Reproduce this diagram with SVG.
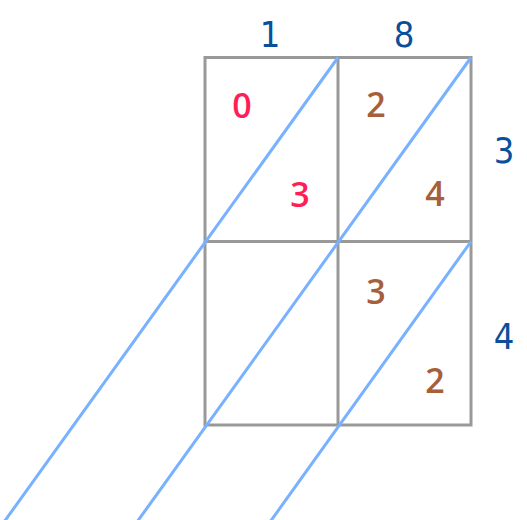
<svg xmlns="http://www.w3.org/2000/svg" width="527" height="520" viewBox="0 0 527 520">
<style>
.grid{fill:none;stroke:#999999;stroke-width:3}
.diag{stroke:#77b1ff;stroke-width:3;fill:none}
.lbl{font-family:"DejaVu Sans Condensed","DejaVu Sans",sans-serif;font-size:36px;fill:#0a4f9c;text-anchor:middle}
.dig{font-family:"Open Sans","Noto Sans",sans-serif;font-size:34px;font-weight:600;text-anchor:middle}
.red{fill:#ff1f55}
.brown{fill:#a65f3a}
</style>
<rect width="527" height="520" fill="#ffffff"/>
<g id="grid">
<rect class="grid" x="205" y="57.5" width="266" height="367.5"/>
<line class="grid" x1="338" y1="57.5" x2="338" y2="425"/>
<line class="grid" x1="205" y1="241.5" x2="471" y2="241.5"/>
</g>
<g id="connectors">
<line class="diag" x1="338" y1="57.5" x2="4" y2="522"/>
<line class="diag" x1="471" y1="57.5" x2="137" y2="522"/>
<line class="diag" x1="471" y1="241.5" x2="270" y2="522"/>
</g>
<g id="labels">
<text class="lbl" x="270" y="47">1</text>
<text class="lbl" x="404" y="47">8</text>
<text class="lbl" x="504" y="163">3</text>
<text class="lbl" x="504" y="349">4</text>
</g>
<g id="cell-1-1">
<text class="dig red" x="242" y="118">0</text>
<text class="dig red" x="300" y="207">3</text>
</g>
<g id="cell-1-2">
<text class="dig brown" x="376" y="117">2</text>
<text class="dig brown" x="435" y="206">4</text>
</g>
<g id="cell-2-1"></g>
<g id="cell-2-2">
<text class="dig brown" x="376" y="304">3</text>
<text class="dig brown" x="435" y="393">2</text>
</g>
</svg>
